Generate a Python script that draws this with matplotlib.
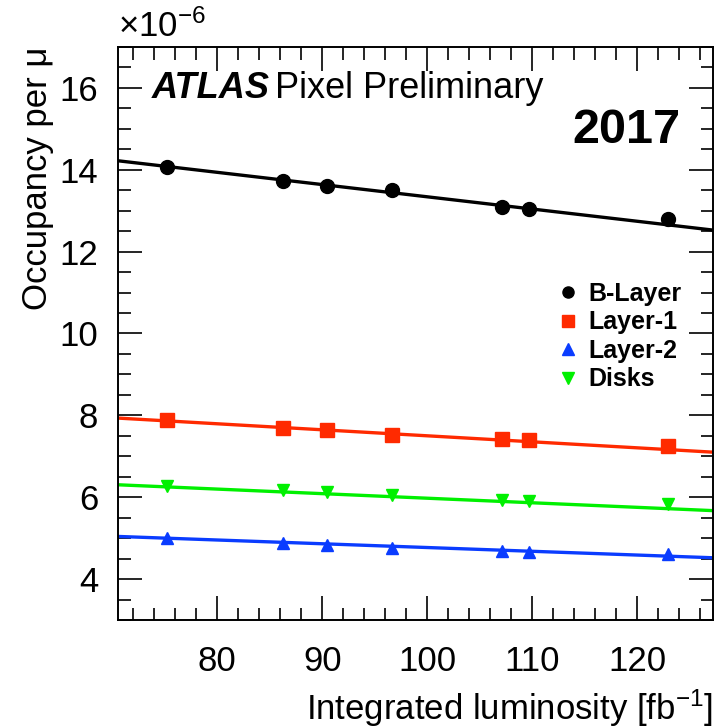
import numpy as np
import matplotlib
matplotlib.use("Agg")
import matplotlib.pyplot as plt
from matplotlib.lines import Line2D
from matplotlib.ticker import MultipleLocator

plt.rcParams['font.family'] = ['Liberation Sans', 'DejaVu Sans']
plt.rcParams['mathtext.fontset'] = 'custom'
plt.rcParams['mathtext.rm'] = 'Liberation Sans'
plt.rcParams['mathtext.it'] = 'Liberation Sans:italic'

# ---- data (occupancy per mu, units of 1e-6) ----
lumi = [75.2, 86.3, 90.4, 96.6, 107.1, 109.7, 122.9]
series_names = ["B-Layer", "Layer-1", "Layer-2", "Disks"]
b_layer = [14.08, 13.72, 13.60, 13.50, 13.10, 13.05, 12.80]
layer1 = [7.88, 7.68, 7.63, 7.51, 7.41, 7.39, 7.25]
layer2 = [5.00, 4.88, 4.83, 4.75, 4.69, 4.66, 4.61]
disks = [6.28, 6.17, 6.12, 6.05, 5.93, 5.91, 5.83]
# linear fit parameters: (intercept, slope)
fit_b_layer = (16.33, -0.0299)
fit_layer1 = (8.97, -0.0147)
fit_layer2 = (5.69, -0.0092)
fit_disks = (7.09, -0.01115)

xlim = (70.5, 127.2)
ylim = (3.0, 17.0)

fig = plt.figure(figsize=(7.17, 7.28), dpi=100)
ax = fig.add_axes([0.1639, 0.1484, 0.8305, 0.787])

styles = [
    (b_layer, fit_b_layer, 'black', 'o', 10),
    (layer1, fit_layer1, '#ff2a00', 's', 10),
    (layer2, fit_layer2, '#0a3cff', '^', 9),
    (disks, fit_disks, '#00f000', 'v', 9),
]
xs = np.linspace(xlim[0], xlim[1], 200)
handles = []
for name, (vals, fit, col, mk, ms) in zip(series_names, styles):
    ax.plot(xs, fit[0] + fit[1] * xs, color=col, lw=2.4, zorder=2)
    ax.plot(lumi, vals, linestyle='none', marker=mk, color=col, ms=ms, zorder=3)
    handles.append(Line2D([], [], linestyle='none', marker=mk, color=col, ms=8, label=name))

ax.set_xlim(*xlim)
ax.set_ylim(*ylim)
ax.xaxis.set_major_locator(MultipleLocator(10))
ax.xaxis.set_minor_locator(MultipleLocator(2))
ax.yaxis.set_major_locator(MultipleLocator(2))
ax.yaxis.set_minor_locator(MultipleLocator(0.5))
ax.tick_params(which='both', direction='in', top=True, right=True, width=1.2, colors='black')
ax.tick_params(which='major', length=17, labelsize=25)
ax.tick_params(which='minor', length=9)
ax.tick_params(axis='x', which='major', pad=18)
ax.tick_params(axis='y', which='major', pad=14)
for s in ax.spines.values():
    s.set_linewidth(1.4)

fig.text(0.994, 1 - 708 / 728, 'Integrated luminosity [fb$^{\\mathregular{-1}}$]', fontsize=25,
         ha='right', va='center')
ax.set_ylabel('Occupancy per \u03bc', fontsize=25, ha='right', y=1.0, labelpad=4)

ax.text(0.0, 1.006, '\u00d710$^{\\mathregular{-6}}$', transform=ax.transAxes, fontsize=25,
        ha='left', va='bottom')

ax.text(0.058, 0.928, 'ATLAS', transform=ax.transAxes, fontsize=26, fontweight='bold',
        fontstyle='italic', ha='left', va='center')
ax.text(0.265, 0.928, 'Pixel Preliminary', transform=ax.transAxes, fontsize=26,
        ha='left', va='center')
ax.text(0.945, 0.855, '2017', transform=ax.transAxes, fontsize=35, fontweight='bold',
        ha='right', va='center')

leg = ax.legend(handles=handles, loc='upper left', bbox_to_anchor=(0.715, 0.612),
                frameon=False, prop={'weight': 'bold', 'size': 18},
                handlelength=1.0, handletextpad=0.3, labelspacing=0.18, borderpad=0)

fig.savefig('out.png', dpi=100)
